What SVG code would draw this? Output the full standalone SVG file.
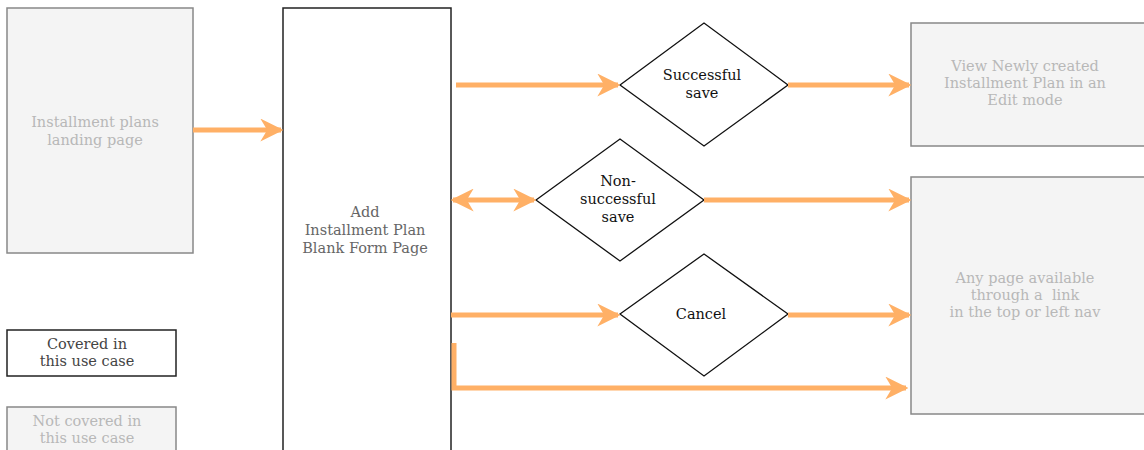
<svg xmlns="http://www.w3.org/2000/svg" width="1144" height="450" viewBox="0 0 1144 450">
<defs>
<style>
.grey{fill:#f4f4f4;stroke:#888;stroke-width:1.5}
.main{fill:#fff;stroke:#222;stroke-width:1.5}
.dia{fill:#fff;stroke:#111;stroke-width:1.3}
.t{font-family:"DejaVu Serif","Liberation Serif",serif;font-size:14.5px;text-anchor:middle}
.tg{fill:#b8b8b8}
.tm{fill:#666}
.tb{fill:#111}
.tl{fill:#444}
.c{fill:none;stroke:#ffb066;stroke-width:5}
</style>
<marker id="ah" viewBox="0 0 10 10" refX="9" refY="5" markerWidth="4.6" markerHeight="4.6" orient="auto-start-reverse" markerUnits="strokeWidth">
<path d="M0,0 L10,5 L0,10 L3,5 Z" fill="#ffb066"/>
</marker>
</defs>
<g id="landing"><rect class="grey" x="7" y="8" width="186" height="245"/>
<text class="t tg" x="95" y="127">Installment plans</text><text class="t tg" x="95" y="145">landing page</text></g>
<g id="addform"><rect class="main" x="283" y="8" width="168" height="450"/>
<text class="t tm" x="365" y="217">Add</text><text class="t tm" x="365" y="235">Installment Plan</text><text class="t tm" x="365" y="253">Blank Form Page</text></g>
<g id="success"><polygon class="dia" points="620,85 704,23 788,85 704,146"/>
<text class="t tb" x="702" y="80">Successful</text><text class="t tb" x="702" y="98">save</text></g>
<g id="nonsuccess"><polygon class="dia" points="536,200 620,139 704,200 620,261"/>
<text class="t tb" x="618" y="186">Non-</text><text class="t tb" x="618" y="204">successful</text><text class="t tb" x="618" y="222">save</text></g>
<g id="cancel"><polygon class="dia" points="620,314 704,254 788,314 704,376"/>
<text class="t tb" x="701" y="319">Cancel</text></g>
<g id="viewnew"><rect class="grey" x="911" y="23" width="240" height="123"/>
<text class="t tg" x="1025" y="71">View Newly created</text><text class="t tg" x="1025" y="88">Installment Plan in an</text><text class="t tg" x="1025" y="105">Edit mode</text></g>
<g id="anypage"><rect class="grey" x="911" y="177" width="240" height="237"/>
<text class="t tg" x="1025" y="283">Any page available</text><text class="t tg" x="1025" y="300" xml:space="preserve">through a  link</text><text class="t tg" x="1025" y="317">in the top or left nav</text></g>
<g id="legend-covered"><rect x="7" y="330" width="169" height="46" fill="#fff" stroke="#222" stroke-width="1.5"/>
<text class="t tl" x="87" y="349">Covered in</text><text class="t tl" x="87" y="366">this use case</text></g>
<g id="legend-notcovered"><rect class="grey" x="7" y="407" width="169" height="50"/>
<text class="t tg" x="87" y="426">Not covered in</text><text class="t tg" x="87" y="443">this use case</text></g>
<g id="connectors">
<path class="c" d="M193,130 H281" marker-end="url(#ah)"/>
<path class="c" d="M456,85 H618" marker-end="url(#ah)"/>
<path class="c" d="M788,85 H909" marker-end="url(#ah)"/>
<path class="c" d="M453,200 H534" marker-start="url(#ah)" marker-end="url(#ah)"/>
<path class="c" d="M704,200 H909" marker-end="url(#ah)"/>
<path class="c" d="M451,315 H618" marker-end="url(#ah)"/>
<path class="c" d="M788,315 H909" marker-end="url(#ah)"/>
<path class="c" d="M454,343 V388 H906" marker-end="url(#ah)" stroke-width="4"/>
</g>
</svg>
